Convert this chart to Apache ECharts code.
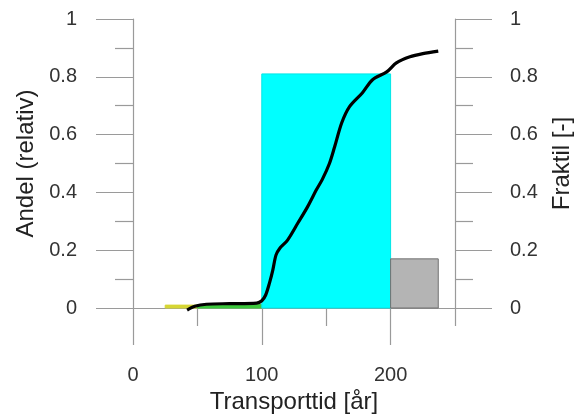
<!DOCTYPE html>
<html>
<head>
<meta charset="utf-8">
<script src="https://cdn.jsdelivr.net/npm/echarts@6/dist/echarts.min.js"></script>
<style>
html,body{margin:0;padding:0;background:#fff;}
#chart{width:586px;height:416px;}
</style>
</head>
<body>
<div id="chart"></div>
<script>
// Histogram bins (Transporttid, år) and relative share
const binStart = [25, 50, 100, 200];
const binEnd   = [50, 100, 200, 237];
const binShare = [0.01, 0.012, 0.81, 0.17];
const binColors = ['#d6d634', '#3cc83c', '#00ffff', '#b4b4b4'];
const binBorders = ['#d6d634', '#3cc83c', '#00e6e6', '#707070'];

// Cumulative fraction curve
const cdfX = [42, 48, 57, 75, 96, 100, 103, 106, 108.5, 111, 114, 120, 128, 135.5, 142.5, 147, 152.5, 156.5, 162, 168, 178, 186, 197, 204.5, 215, 225, 237];
const cdfY = [-0.007, 0.006, 0.013, 0.015, 0.017, 0.025, 0.045, 0.087, 0.13, 0.183, 0.207, 0.235, 0.294, 0.35, 0.41, 0.445, 0.50, 0.557, 0.64, 0.696, 0.744, 0.79, 0.817, 0.848, 0.869, 0.88, 0.889];

const xMajorTicks = [0, 100, 200];
const xMinorTicks = [50, 150, 250];

const axisGray = '#9a9a9a';
const FONT = 'Liberation Sans, Arial, sans-serif';

const chart = echarts.init(document.getElementById('chart'), null, {renderer: 'canvas'});

const binData = binStart.map((s, i) => [s, binEnd[i], binShare[i], i]);
const cdfData = cdfX.map((x, i) => [x, cdfY[i]]);

function yAxisCfg(pos, name, gap, margin) {
  return {
    type: 'value', position: pos, min: 0, max: 1, interval: 0.2,
    name: name, nameLocation: 'middle', nameGap: gap, nameRotate: 90,
    nameTextStyle: {fontFamily: FONT, fontSize: 24, color: '#222'},
    axisLine: {show: true, onZero: false, lineStyle: {color: axisGray, width: 1.2}},
    axisTick: {show: true, length: 37, lineStyle: {color: axisGray, width: 1.2}},
    minorTick: {show: true, splitNumber: 2, length: 18, lineStyle: {color: axisGray, width: 1.2}},
    axisLabel: {margin: margin, fontFamily: FONT, fontSize: 20, color: '#333'},
    splitLine: {show: false}, minorSplitLine: {show: false}
  };
}

chart.setOption({
  animation: false,
  backgroundColor: '#fff',
  grid: {left: 133, right: 131, top: 19, bottom: 108, containLabel: false, outerBoundsMode: 'none'},
  xAxis: [
    {
      type: 'value', position: 'bottom', min: 0, max: 250, interval: 100,
      name: 'Transporttid [år]', nameLocation: 'middle', nameGap: 80,
      nameTextStyle: {fontFamily: FONT, fontSize: 24, color: '#222'},
      axisLine: {show: true, onZero: false, lineStyle: {color: axisGray, width: 1.2}},
      axisTick: {show: true, length: 37, customValues: xMajorTicks, lineStyle: {color: axisGray, width: 1.2}},
      axisLabel: {margin: 57, fontFamily: FONT, fontSize: 20, color: '#333', customValues: xMajorTicks},
      splitLine: {show: false}
    },
    {
      type: 'value', position: 'bottom', min: 0, max: 250, interval: 50,
      axisLine: {show: false, onZero: false},
      axisTick: {show: true, length: 18, customValues: xMinorTicks, lineStyle: {color: axisGray, width: 1.2}},
      axisLabel: {show: false},
      splitLine: {show: false}
    }
  ],
  yAxis: [
    yAxisCfg('left', 'Andel (relativ)', 94, 56),
    yAxisCfg('right', 'Fraktil [-]', 95, 55)
  ],
  series: [
    {
      type: 'custom', xAxisIndex: 0, yAxisIndex: 0,
      data: binData,
      renderItem: function (params, api) {
        const s = api.value(0), e = api.value(1), v = api.value(2), idx = api.value(3);
        const p0 = api.coord([s, v]);
        const p1 = api.coord([e, 0]);
        return {
          type: 'rect',
          shape: {x: p0[0], y: p0[1], width: p1[0] - p0[0], height: p1[1] - p0[1]},
          style: {fill: binColors[idx], stroke: binBorders[idx], lineWidth: 1}
        };
      },
      encode: {x: [0, 1], y: 2},
      z: 2
    },
    {
      type: 'line', xAxisIndex: 0, yAxisIndex: 1,
      data: cdfData, smooth: 0.3, showSymbol: false, clip: false,
      lineStyle: {color: '#000', width: 3.2},
      z: 5
    }
  ]
});
</script>
</body>
</html>
